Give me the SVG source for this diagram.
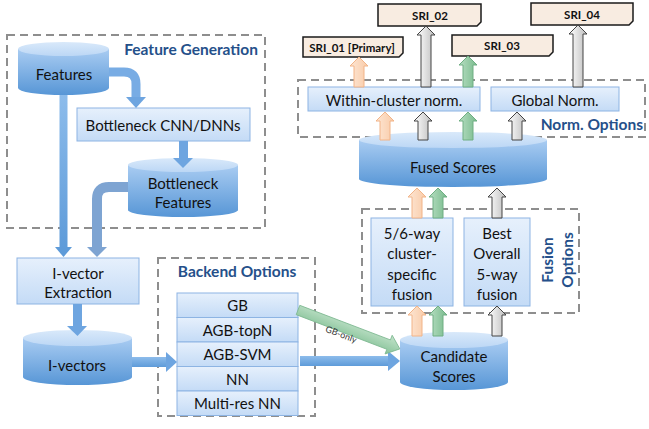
<svg xmlns="http://www.w3.org/2000/svg" width="649" height="429" viewBox="0 0 649 429">
<defs>
<linearGradient id="cylBody" x1="0" y1="0" x2="0" y2="1"><stop offset="0" stop-color="#A9CCF2"/><stop offset="1" stop-color="#5796D6"/></linearGradient>
<linearGradient id="cylTop" x1="0" y1="0" x2="0" y2="1"><stop offset="0" stop-color="#D9E9FA"/><stop offset="1" stop-color="#BCD7F5"/></linearGradient>
<linearGradient id="boxG" x1="0" y1="0" x2="0" y2="1"><stop offset="0" stop-color="#E6F0FC"/><stop offset="1" stop-color="#C4DBF6"/></linearGradient>
<linearGradient id="blueA" x1="0" y1="0" x2="1" y2="0"><stop offset="0" stop-color="#8DBCEB"/><stop offset="1" stop-color="#5E9BD9"/></linearGradient>
<linearGradient id="blueAv" x1="0" y1="0" x2="0" y2="1"><stop offset="0" stop-color="#8DBCEB"/><stop offset="1" stop-color="#5E9BD9"/></linearGradient>
<linearGradient id="grayA" x1="0" y1="0" x2="1" y2="0"><stop offset="0" stop-color="#FFFFFF"/><stop offset="1" stop-color="#BDBDBD"/></linearGradient>
<linearGradient id="orgA" x1="0" y1="0" x2="1" y2="0"><stop offset="0" stop-color="#FDE6D4"/><stop offset="1" stop-color="#F9CBA8"/></linearGradient>
<linearGradient id="grnA" x1="0" y1="0" x2="1" y2="0"><stop offset="0" stop-color="#B7DEC2"/><stop offset="1" stop-color="#79BB8D"/></linearGradient>
<linearGradient id="grnB" x1="0" y1="0" x2="0" y2="1"><stop offset="0" stop-color="#C3E3CB"/><stop offset="1" stop-color="#86C298"/></linearGradient>
</defs>
<style>
.t{font-family:Lato,"Liberation Sans",sans-serif;font-size:15px;fill:#111;text-anchor:middle;dominant-baseline:central}
.h{font-family:Lato,"Liberation Sans",sans-serif;font-size:15.5px;font-weight:bold;fill:#25508A}
.dash{fill:none;stroke:#8E8E8E;stroke-width:2;stroke-dasharray:8 5}
.box{fill:url(#boxG);stroke:#8DB4E3;stroke-width:1}
.cb{fill:url(#cylBody)}
.ct{fill:url(#cylTop)}
.sri{fill:#F8ECE1;stroke:#1A1A1A;stroke-width:1.5}
.st{font-family:Lato,"Liberation Sans",sans-serif;font-size:11.5px;font-weight:bold;fill:#111;text-anchor:middle;dominant-baseline:central}
.ga{fill:url(#grayA);stroke:#444;stroke-width:1}
.oa{fill:url(#orgA);stroke:#F2B488;stroke-width:1}
.na{fill:url(#grnA);stroke:#6FAE83;stroke-width:1}
.ba{fill:url(#blueAv)}
</style>
<rect width="649" height="429" fill="#FFFFFF"/>

<g id="groups">
<rect class="dash" x="7" y="35" width="258" height="193"/>
<text class="h" x="258" y="55" text-anchor="end">Feature Generation</text>
<rect class="dash" x="158" y="258" width="157" height="158"/>
<text class="h" x="237" y="277" text-anchor="middle">Backend Options</text>
<rect class="dash" x="362" y="209" width="217" height="104"/>
<text class="h" transform="translate(557,260) rotate(-90)" text-anchor="middle"><tspan x="0" y="-4">Fusion</tspan><tspan x="0" y="16">Options</tspan></text>
<rect class="dash" x="298" y="80" width="347" height="57"/>
<text class="h" x="643" y="130" text-anchor="end">Norm. Options</text>
</g>

<g id="features">
<path class="cb" d="M18,49 V88 A45.5,7 0 0 0 109,88 V49 Z"/>
<ellipse class="ct" cx="63.5" cy="49" rx="45.5" ry="7"/>
<text class="t" x="64" y="74">Features</text>
</g>
<g id="bottleneck-cnn">
<rect class="box" x="77" y="108" width="173" height="33"/>
<text class="t" x="163" y="125">Bottleneck CNN/DNNs</text>
</g>
<g id="bottleneck-features">
<path class="cb" d="M128,165 V210 A55,7 0 0 0 238,210 V165 Z"/>
<ellipse class="ct" cx="183" cy="165" rx="55" ry="7"/>
<text class="t" x="183" y="183">Bottleneck</text>
<text class="t" x="183" y="202">Features</text>
</g>
<g id="ivector-extraction">
<rect class="box" x="17" y="258" width="122" height="46"/>
<text class="t" x="78" y="273">I-vector</text>
<text class="t" x="78" y="292">Extraction</text>
</g>
<g id="ivectors">
<path class="cb" d="M23,338 V377 A54.5,8 0 0 0 132,377 V338 Z"/>
<ellipse class="ct" cx="77.5" cy="338" rx="54.5" ry="8"/>
<text class="t" x="77" y="365">I-vectors</text>
</g>
<g id="backend-stack">
<rect class="box" x="177" y="293" width="121" height="24.5"/>
<rect class="box" x="177" y="317.5" width="121" height="24.5"/>
<rect class="box" x="177" y="342" width="121" height="24.5"/>
<rect class="box" x="177" y="366.5" width="121" height="24.5"/>
<rect class="box" x="177" y="391" width="121" height="24.5"/>
<text class="t" x="237.5" y="305">GB</text>
<text class="t" x="237.5" y="330">AGB-topN</text>
<text class="t" x="237.5" y="354">AGB-SVM</text>
<text class="t" x="237.5" y="379">NN</text>
<text class="t" x="237.5" y="403">Multi-res NN</text>
</g>
<g id="candidate-scores">
<path class="cb" d="M400,340 V382 A54,8 0 0 0 508,382 V340 Z"/>
<ellipse class="ct" cx="454" cy="340" rx="54" ry="8"/>
<text class="t" x="454" y="356">Candidate</text>
<text class="t" x="454" y="376">Scores</text>
</g>
<g id="cluster-fusion">
<rect class="box" x="371" y="218" width="82" height="88"/>
<text class="t" x="412" y="233">5/6-way</text>
<text class="t" x="412" y="253">cluster-</text>
<text class="t" x="412" y="274">specific</text>
<text class="t" x="412" y="294">fusion</text>
</g>
<g id="best-fusion">
<rect class="box" x="464" y="218" width="66" height="88"/>
<text class="t" x="497" y="233">Best</text>
<text class="t" x="497" y="253">Overall</text>
<text class="t" x="497" y="274">5-way</text>
<text class="t" x="497" y="294">fusion</text>
</g>
<g id="fused-scores">
<path class="cb" d="M359,140 V179 A94,8 0 0 0 547,179 V140 Z"/>
<ellipse class="ct" cx="453" cy="140" rx="94" ry="8"/>
<text class="t" x="453" y="167">Fused Scores</text>
</g>
<g id="within-norm">
<rect class="box" x="308" y="87" width="172" height="24"/>
<text class="t" x="394" y="100">Within-cluster norm.</text>
</g>
<g id="global-norm">
<rect class="box" x="491" y="87" width="128" height="24"/>
<text class="t" x="555" y="100">Global Norm.</text>
</g>
<g id="sri01">
<path class="sri" d="M303,37 H403 V53 L399,57 H303 Z"/>
<text class="st" x="352" y="47">SRI_01 [Primary]</text>
</g>
<g id="sri02">
<path class="sri" d="M378,4 H481 V22 L477,26 H378 Z"/>
<text class="st" x="430" y="15">SRI_02</text>
</g>
<g id="sri03">
<path class="sri" d="M452,35 H553 V52 L549,56 H452 Z"/>
<text class="st" x="502" y="45">SRI_03</text>
</g>
<g id="sri04">
<path class="sri" d="M531,3 H633 V21 L629,25 H531 Z"/>
<text class="st" x="582" y="14">SRI_04</text>
</g>

<g id="connectors">
<path d="M109,72 H124 Q136,72 136,84 V98" fill="none" stroke="#78ACE4" stroke-width="9"/>
<polygon points="126,97 146,97 136,108" fill="#6EA5E0"/>
<rect class="ba" x="59.5" y="95" width="8" height="153"/>
<polygon points="55,247 72,247 63.5,257" fill="#5E9BD9"/>
<path d="M128,187 H109 Q97,187 97,199 V248" fill="none" stroke="#7EA4D2" stroke-width="10"/>
<polygon points="87,247 107,247 97,257" fill="#7EA4D2"/>
<rect x="179" y="141" width="9" height="18" fill="#6EA5E0"/>
<polygon points="173,158 193,158 183,168" fill="#6EA5E0"/>
<rect x="73" y="304" width="9" height="23" fill="#6EA5E0"/>
<polygon points="67,326 87,326 77.5,336" fill="#6EA5E0"/>
<rect x="132" y="357" width="35" height="10" fill="url(#blueAv)"/>
<polygon points="166,352 166,372 177,362" fill="#6EA5E0"/>
<rect x="300" y="356" width="89" height="10" fill="url(#blueAv)"/>
<polygon points="388,351 388,371 400,361" fill="#6EA5E0"/>
<g transform="translate(298,310) rotate(20.9)">
<path d="M0,-5 H97 V-10 L109,0 L97,10 V5 H0 Z" fill="url(#grnB)" stroke="#7DB890" stroke-width="0.8"/>
<text x="49" y="7" font-family="Lato,'Liberation Sans',sans-serif" font-size="9" fill="#333" text-anchor="middle" dominant-baseline="central">GB-only</text>
</g>
<path class="oa" d="M412,336 V315 H408 L417,306 L426,315 H422 V336 Z"/>
<path class="na" d="M433,336 V315 H429 L438,306 L447,315 H443 V336 Z"/>
<path class="ga" d="M492,336 V315 H488 L497,306 L506,315 H502 V336 Z"/>
<path class="oa" d="M412,218 V197 H408 L417,188 L426,197 H422 V218 Z"/>
<path class="na" d="M433,218 V197 H429 L438,188 L447,197 H443 V218 Z"/>
<path class="ga" d="M492,218 V197 H488 L497,188 L506,197 H502 V218 Z"/>
<path class="oa" d="M380,140 V121 H376 L385,112 L394,121 H390 V140 Z"/>
<path class="ga" d="M418,140 V121 H414 L423,112 L432,121 H428 V140 Z"/>
<path class="na" d="M463,140 V121 H459 L468,112 L477,121 H473 V140 Z"/>
<path class="ga" d="M512,140 V121 H508 L517,112 L526,121 H522 V140 Z"/>
<path class="oa" d="M354,87 V66 H350 L359,57 L368,66 H364 V87 Z"/>
<path class="ga" d="M421,87 V35 H417 L426,26 L435,35 H431 V87 Z"/>
<path class="na" d="M463,87 V65 H459 L468,56 L477,65 H473 V87 Z"/>
<path class="ga" d="M573,87 V34 H569 L578,25 L587,34 H583 V87 Z"/>
</g>
</svg>
